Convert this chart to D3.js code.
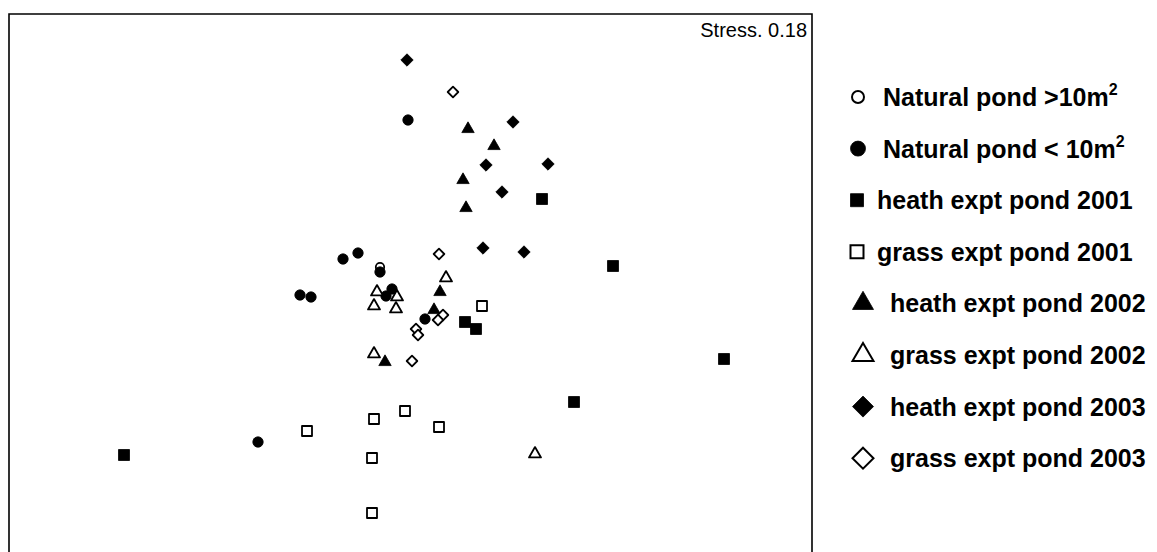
<!DOCTYPE html>
<html>
<head>
<meta charset="utf-8">
<script src="https://cdn.jsdelivr.net/npm/d3@7"></script>
<style>
  html, body { margin: 0; padding: 0; background: #fff; }
  svg { display: block; }
</style>
</head>
<body>
<svg id="chart" width="1157" height="552"></svg>
<script>
// ---- data (NMDS ordination scores) ----
const groups = ["Natural pond >10m2", "Natural pond < 10m2", "heath expt pond 2001", "grass expt pond 2001",
                "heath expt pond 2002", "grass expt pond 2002", "heath expt pond 2003", "grass expt pond 2003"];
const legendMain = ["Natural pond >10m", "Natural pond < 10m", "heath expt pond 2001", "grass expt pond 2001",
                    "heath expt pond 2002", "grass expt pond 2002", "heath expt pond 2003", "grass expt pond 2003"];
const legendSup = ["2", "2", "", "", "", "", "", ""];
const stressLabel = "Stress. 0.18";

const naturalLarge_x = [-0.30];
const naturalLarge_y = [0.13];
const naturalSmall_x = [-0.02, -0.67, -0.52, -0.30, -1.10, -0.99, -0.24, -0.18, 0.15, -1.52];
const naturalSmall_y = [1.60, 0.21, 0.27, 0.08, -0.15, -0.17, -0.16, -0.09, -0.39, -1.62];
const heath2001_x = [1.32, 2.03, 0.55, 0.66, 3.14, 1.64, -2.86];
const heath2001_y = [0.81, 0.14, -0.42, -0.49, -0.79, -1.22, -1.75];
const grass2001_x = [0.72, -1.03, -0.36, -0.05, 0.29, -0.38, -0.38];
const grass2001_y = [-0.26, -1.51, -1.39, -1.31, -1.47, -1.78, -2.33];
const heath2002_x = [0.58, 0.84, 0.53, 0.56, 0.30, 0.24, -0.25];
const heath2002_y = [1.51, 1.34, 1.00, 0.72, -0.12, -0.30, -0.82];
const grass2002_x = [0.36, -0.33, -0.13, -0.36, -0.14, -0.36, 1.25];
const grass2002_y = [0.02, -0.12, -0.17, -0.26, -0.29, -0.74, -1.74];
const heath2003_x = [-0.03, 1.03, 0.76, 1.38, 0.92, 0.73, 1.14];
const heath2003_y = [2.20, 1.58, 1.15, 1.16, 0.88, 0.32, 0.28];
const grass2003_x = [0.43, 0.29, 0.33, 0.28, 0.06, 0.08, 0.02];
const grass2003_y = [1.88, 0.26, -0.35, -0.40, -0.49, -0.55, -0.81];

const seriesX = [naturalLarge_x, naturalSmall_x, heath2001_x, grass2001_x, heath2002_x, grass2002_x, heath2003_x, grass2003_x];
const seriesY = [naturalLarge_y, naturalSmall_y, heath2001_y, grass2001_y, heath2002_y, grass2002_y, heath2003_y, grass2003_y];

// ---- styles ----
const shapes = ["circle", "circle", "square", "square", "triangle", "triangle", "diamond", "diamond"];
const filled = [false, true, true, false, true, false, true, false];
const plotSize = [4.2, 5.2, 5.5, 5, 6.2, 6, 6.2, 5.3];     // half-size in the plot
const legSize  = [6, 7.5, 6.5, 6.5, 10.5, 10.5, 10.5, 10.5]; // half-size in the legend
const legSymX  = [858, 858, 857, 857, 863, 863, 863, 863];
const legTextX = [883, 883, 877, 877, 890, 890, 890, 890];

function shapePath(shape, s) {
  if (shape === "circle") {
    return `M${-s},0A${s},${s} 0 1,0 ${s},0A${s},${s} 0 1,0 ${-s},0Z`;
  }
  if (shape === "square") {
    return `M${-s},${-s}L${s},${-s}L${s},${s}L${-s},${s}Z`;
  }
  if (shape === "triangle") {
    const h = s * 1.732;
    return `M0,${-h * 2 / 3}L${s},${h / 3}L${-s},${h / 3}Z`;
  }
  // diamond
  return `M0,${-s}L${s},0L0,${s}L${-s},0Z`;
}

const svg = d3.select("#chart");
const box = { left: 9, top: 14, right: 812, bottom: 552 };

const x = d3.scaleLinear().domain([-4.01, 4.02]).range([box.left, box.right]);
const y = d3.scaleLinear().domain([2.66, -2.70]).range([box.top, 550]);

// frame
svg.append("path")
  .attr("d", `M${box.left},${box.bottom + 2}L${box.left},${box.top}L${box.right},${box.top}L${box.right},${box.bottom + 2}`)
  .attr("fill", "none").attr("stroke", "#000").attr("stroke-width", 1.6);

svg.append("text")
  .attr("x", 807).attr("y", 37)
  .attr("text-anchor", "end")
  .attr("font-family", "Arial, 'Liberation Sans', sans-serif")
  .attr("font-size", 20)
  .attr("fill", "#000")
  .text(stressLabel);

// points
groups.forEach((g, i) => {
  const pts = seriesX[i].map((v, k) => ({ x: v, y: seriesY[i][k] }));
  svg.append("g").selectAll("path").data(pts).join("path")
    .attr("transform", d => `translate(${x(d.x)},${y(d.y)})`)
    .attr("d", shapePath(shapes[i], plotSize[i]))
    .attr("fill", filled[i] ? "#000" : "#fff")
    .attr("stroke", "#000")
    .attr("stroke-width", filled[i] ? 0.8 : 1.8)
    .attr("stroke-linejoin", "round");
});

// legend
const legTop = 106, legStep = 51.6;
groups.forEach((g, i) => {
  const base = legTop + i * legStep;
  const cy = base - 9;
  svg.append("path")
    .attr("transform", `translate(${legSymX[i]},${cy})`)
    .attr("d", shapePath(shapes[i], legSize[i]))
    .attr("fill", filled[i] ? "#000" : "#fff")
    .attr("stroke", "#000")
    .attr("stroke-width", filled[i] ? 0.8 : 2)
    .attr("stroke-linejoin", "miter");
  const t = svg.append("text")
    .attr("x", legTextX[i]).attr("y", base)
    .attr("font-family", "Arial, 'Liberation Sans', sans-serif")
    .attr("font-size", 25)
    .attr("font-weight", "bold")
    .attr("fill", "#000");
  t.append("tspan").text(legendMain[i]);
  if (legendSup[i]) {
    t.append("tspan").attr("dy", -11).attr("font-size", 16).text(legendSup[i]);
  }
});
</script>
</body>
</html>
